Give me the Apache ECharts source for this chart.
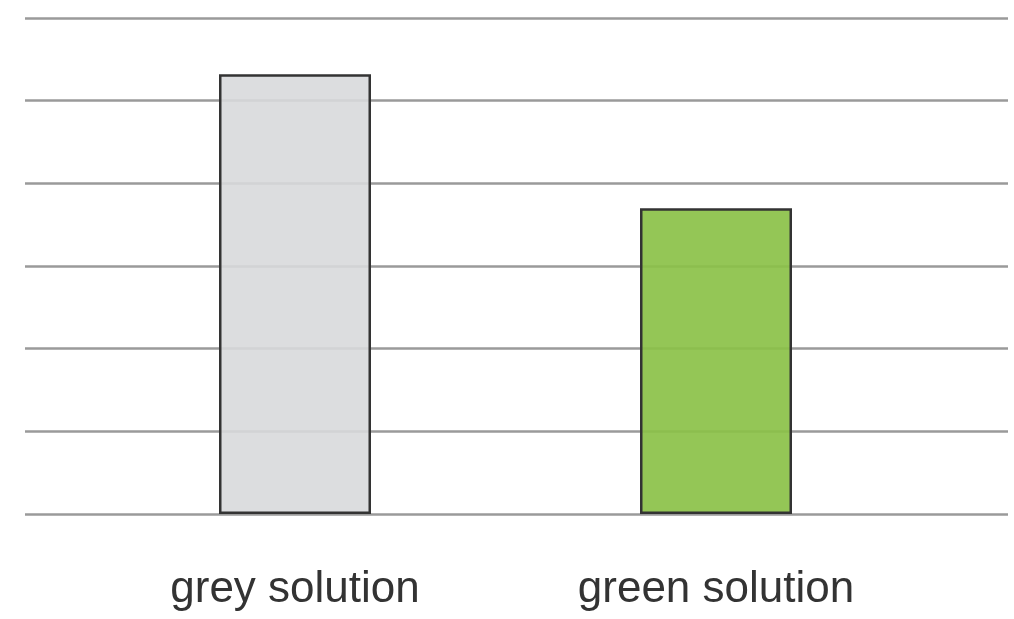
<!DOCTYPE html>
<html>
<head>
<meta charset="utf-8">
<script src="https://cdn.jsdelivr.net/npm/echarts@6/dist/echarts.min.js"></script>
<style>html,body{margin:0;padding:0;background:#fff;}#c{width:1014px;height:619px;}</style>
</head>
<body>
<div id="c"></div>
<script>
const categories = ['grey solution', 'green solution'];
const values = [5.32, 3.70];
const barColors = ['rgba(216,217,220,0.9)', 'rgba(139,193,72,0.92)'];
const yMin = 0, yMax = 6, yInterval = 1;

const chart = echarts.init(document.getElementById('c'), null, {renderer: 'canvas'});
chart.setOption({
  animation: false,
  grid: [
    {left: 25, right: 6, top: 18, bottom: 105},
    {left: 84.5, right: 87.5, top: 18, bottom: 105}
  ],
  xAxis: [
    {gridIndex: 0, type: 'category', data: categories, show: false},
    {gridIndex: 1, type: 'category', data: categories,
     axisLine: {show: false}, axisTick: {show: false},
     axisLabel: {fontSize: 44, color: '#333', fontFamily: 'Liberation Sans, Arial, sans-serif', margin: 54}}
  ],
  yAxis: [
    {gridIndex: 0, type: 'value', min: yMin, max: yMax, interval: yInterval,
     axisLine: {show: false}, axisTick: {show: false}, axisLabel: {show: false},
     splitLine: {show: true, lineStyle: {color: '#9a9a9a', width: 2.5}}},
    {gridIndex: 1, type: 'value', min: yMin, max: yMax, interval: yInterval, show: false,
     splitLine: {show: false}}
  ],
  series: [{
    type: 'bar',
    xAxisIndex: 1, yAxisIndex: 1,
    barWidth: 152,
    data: values.map((v, i) => ({value: v, itemStyle: {color: barColors[i]}})),
    itemStyle: {borderColor: '#333', borderWidth: 2.5},
    z: 1
  }]
});
</script>
</body>
</html>
